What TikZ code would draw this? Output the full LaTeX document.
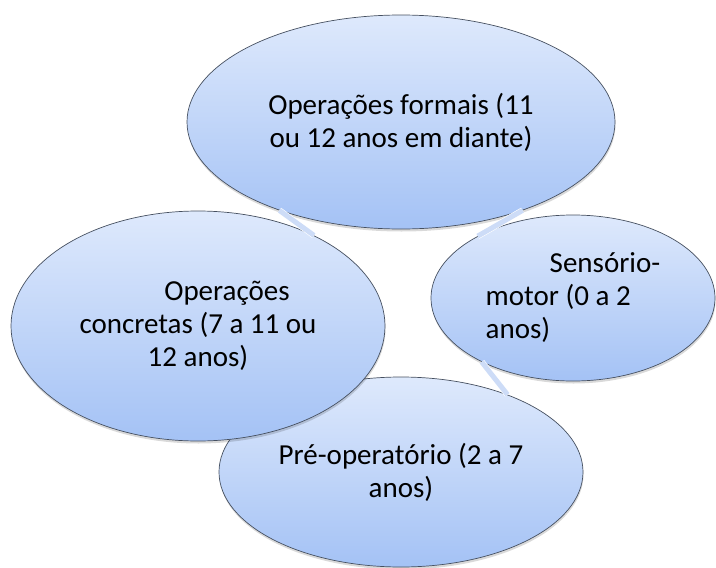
\documentclass[tikz,border=0pt]{standalone}
\usepackage{tikz}
\usepackage{xcolor}
\usepackage{fontspec}
\setmainfont{Carlito}
\usetikzlibrary{shapes.geometric,shadows}

\definecolor{ellTop}{RGB}{222,233,252}
\definecolor{ellBot}{RGB}{164,194,245}
\definecolor{ellLine}{RGB}{70,80,96}
\definecolor{connBlue}{RGB}{205,220,247}

\tikzset{
  stage/.style={ellipse,draw=ellLine,line width=0.7pt,inner sep=0pt,
    top color=ellTop,bottom color=ellBot,
    drop shadow={shadow xshift=0.5pt,shadow yshift=-2.5pt,opacity=0.15,fill=black},
    font=\fontsize{29}{33}\selectfont,align=center},
  cycarrow/.style={draw=white,double=connBlue,double distance=5pt,line width=0.6pt}
}

\begin{document}
\begin{tikzpicture}[x=1pt,y=1pt,yscale=-1,xscale=1]
\path[use as bounding box] (0,0) rectangle (716,568);

%Shape: Ellipse [formal]
\draw (401,122) node [stage,minimum width=428,minimum height=214] (formal) {Operações formais (11\\ou 12 anos em diante)};
%Shape: Ellipse [pre] (under concrete)
\draw (401,472) node [stage,minimum width=364,minimum height=190] (pre) {Pré-operatório (2 a 7\\anos)};
%Shape: Ellipse [concrete]
\draw (198,326) node [stage,minimum width=374,minimum height=230] (concrete) {\hspace*{58pt}Operações\\concretas (7 a 11 ou\\12 anos)};
%Shape: Ellipse [sensor]
\draw (573,298) node [stage,minimum width=284,minimum height=166,align=left] (sensor) {\hspace*{64pt}Sensório-\\motor (0 a 2\\anos)};

% Connectors
\draw [cycarrow] (formal.216) -- (concrete.38) ;
\draw [cycarrow] (sensor.147) -- (formal.-36) ;
\draw [cycarrow] (sensor.215) -- (pre.36) ;

\end{tikzpicture}
\end{document}
